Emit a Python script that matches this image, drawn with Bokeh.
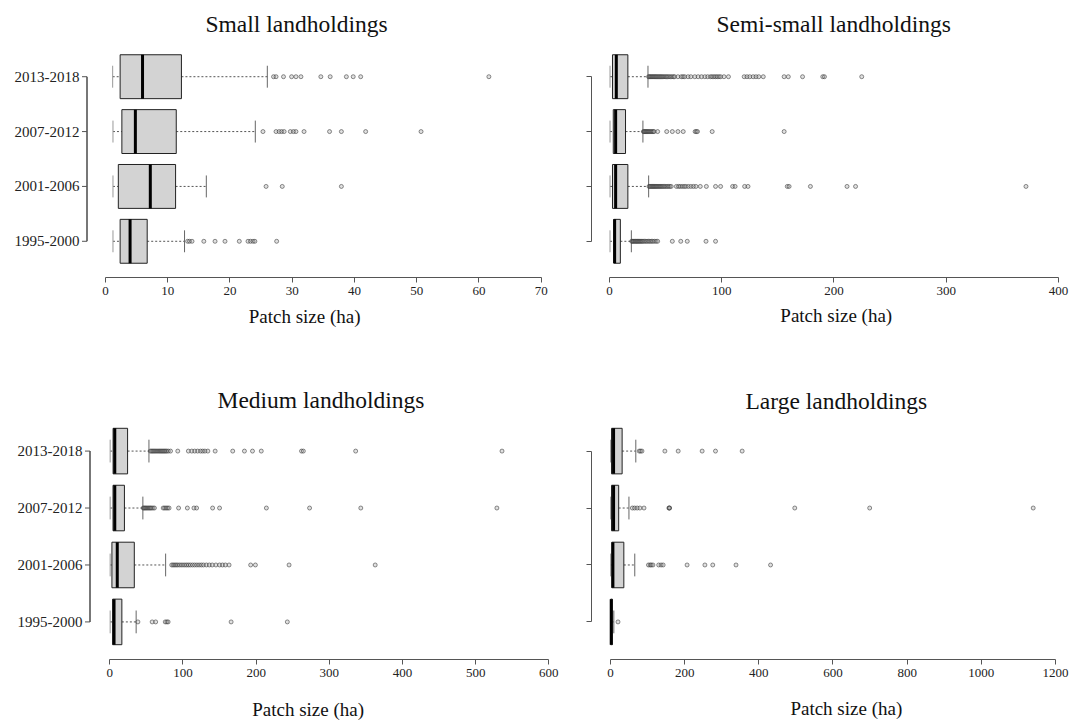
from bokeh.plotting import figure
from bokeh.layouts import column, row
from bokeh.models import Range1d, FixedTicker, Title, LinearAxis
from bokeh.embed import file_html
from bokeh.resources import INLINE

FONT = "Liberation Serif"

periods = ["1995-2000", "2001-2006", "2007-2012", "2013-2018"]

# ---------------- Small landholdings ----------------
small_lw = [1.2, 1.2, 1.2, 1.15]
small_q1 = [2.35, 2.06, 2.63, 2.35]
small_med = [3.95, 7.2, 4.8, 5.95]
small_q3 = [6.7, 11.26, 11.37, 12.2]
small_uw = [12.7, 16.2, 24.07, 26.0]
small_out = [
    [13.2, 13.5, 13.9, 15.8, 17.6, 19.2, 21.5, 22.9, 23.3, 23.7, 24.0, 27.5],
    [25.8, 28.4, 37.9],
    [25.3, 27.4, 27.9, 28.3, 28.7, 29.7, 30.2, 30.6, 31.9, 36.0, 37.9, 41.8, 50.7],
    [27.0, 27.4, 28.6, 29.9, 30.6, 31.4, 34.6, 36.1, 38.7, 39.8, 41.0, 61.6],
]
small_ticks = [0, 10, 20, 30, 40, 50, 60, 70]

# ---------------- Semi-small landholdings ----------------
semi_lw = [0.5, 0.5, 0.5, 0.5]
semi_q1 = [3.9, 2.7, 3.4, 2.7]
semi_med = [4.6, 5.5, 5.5, 6.1]
semi_q3 = [9.7, 16.4, 14.3, 16.4]
semi_uw = [19.5, 34.9, 29.8, 34.3]
semi_out = [
    [19.8, 20.5, 21.2, 22.0, 22.8, 23.5, 24.3, 25.0, 25.8, 26.6, 27.4, 28.3, 29.1,
     30.0, 31.2, 32.4, 33.5, 34.8, 36.0, 37.3, 38.5, 40.0, 41.5, 42.9, 56.0, 63.5,
     69.3, 86.0, 94.5],
    [35.2, 36.0, 36.8, 37.6, 38.4, 39.2, 40.0, 40.8, 41.6, 42.4, 43.3, 44.2, 45.1,
     46.0, 47.0, 48.0, 49.1, 50.2, 51.4, 52.6, 53.8, 55.0, 59.6, 61.5, 63.0, 64.8,
     66.5, 68.0, 70.2, 72.5, 74.8, 77.0, 80.9, 86.3, 94.5, 99.0, 109.7, 111.9,
     120.4, 123.4, 158.4, 160.0, 179.0, 211.6, 219.2, 371.0],
    [30.2, 30.9, 31.6, 32.3, 33.0, 33.8, 34.6, 35.4, 36.3, 37.2, 38.1, 39.0, 39.8,
     42.9, 51.0, 56.0, 61.0, 65.7, 76.3, 77.4, 78.4, 91.5, 155.6],
    [34.8, 35.6, 36.4, 37.2, 38.0, 38.8, 39.6, 40.4, 41.2, 42.0, 42.9, 43.8, 44.7,
     45.6, 46.5, 47.5, 48.5, 49.6, 50.7, 51.8, 53.0, 54.3, 55.6, 57.0, 58.0, 61.0,
     64.0, 65.5, 67.0, 70.0, 72.5, 76.0, 79.0, 82.0, 85.0, 87.5, 90.0, 91.5, 93.0,
     94.5, 96.0, 97.5, 99.0, 102.0, 106.0, 120.0, 122.5, 125.0, 128.0, 130.5,
     133.0, 137.0, 155.6, 159.3, 172.0, 190.0, 191.5, 224.7],
]
semi_ticks = [0, 100, 200, 300, 400]

# ---------------- Medium landholdings ----------------
med_lw = [0.5, 0.5, 0.5, 0.5]
med_q1 = [3.9, 2.9, 4.4, 4.5]
med_med = [5.8, 10.2, 6.8, 6.8]
med_q3 = [16.5, 33.5, 20.0, 24.3]
med_uw = [36.0, 76.3, 45.2, 53.5]
med_out = [
    [38.4, 57.9, 62.7, 75.8, 78.0, 79.7, 165.8, 242.6],
    [84.6, 86.5, 88.5, 90.5, 92.5, 95.0, 97.5, 100.0, 102.5, 105.0, 107.5, 110.0,
     113.0, 116.0, 119.0, 122.0, 125.0, 128.0, 132.0, 136.0, 140.0, 145.0, 150.0,
     154.0, 158.0, 163.0, 192.5, 199.0, 245.0, 362.7],
    [45.7, 47.0, 48.3, 49.6, 51.0, 52.5, 54.0, 55.5, 57.0, 59.0, 61.0, 73.0, 75.0,
     77.0, 79.0, 81.0, 94.0, 106.0, 115.0, 118.6, 140.5, 150.0, 214.0, 273.0,
     343.0, 529.0],
    [55.4, 57.0, 58.5, 60.0, 61.5, 63.0, 64.5, 66.0, 67.5, 69.0, 70.5, 72.0, 73.5,
     75.0, 76.5, 78.0, 80.0, 83.0, 92.9, 107.4, 112.0, 116.0, 120.0, 124.0, 127.0,
     130.0, 134.0, 144.0, 168.0, 184.0, 195.0, 207.0, 262.0, 264.5, 336.0, 536.0],
]
med_ticks = [0, 100, 200, 300, 400, 500, 600]

# ---------------- Large landholdings ----------------
large_lw = [0.3, 0.5, 0.5, 0.5]
large_q1 = [0.5, 3.7, 2.8, 2.8]
large_med = [2.0, 6.5, 8.3, 8.3]
large_q3 = [5.0, 36.0, 22.1, 31.4]
large_uw = [9.0, 65.5, 49.8, 68.3]
large_out = [
    [20.3],
    [102.4, 107.0, 110.0, 114.4, 130.0, 136.5, 142.0, 206.6, 254.6, 275.8, 338.5, 431.7],
    [59.0, 65.0, 72.0, 79.3, 90.4, 157.5, 158.6, 159.6, 497.0, 699.0, 1140.0],
    [77.5, 81.0, 84.9, 146.7, 182.6, 247.2, 283.2, 355.1],
]
large_ticks = [0, 200, 400, 600, 800, 1000, 1200]

XLABEL = "Patch size (ha)"
AX = "#555555"


def panel(title, lw, q1, med, q3, uw, outs, ticks, xr, size, borders,
          title_off, title_standoff, label_x, label_standoff, show_y, bracket_px=0):
    w, h = size
    bl, br, bt, bb = borders
    p = figure(width=w, height=h, x_range=Range1d(*xr), y_range=Range1d(0.34, 4.66),
               toolbar_location=None, output_backend="svg",
               min_border=0, min_border_left=bl, min_border_right=br,
               min_border_top=bt, min_border_bottom=bb)
    p.outline_line_color = None
    p.grid.visible = False
    p.background_fill_color = "white"
    p.border_fill_color = "white"

    ys = list(range(1, len(periods) + 1))
    # whiskers
    p.segment(x0=q3, y0=ys, x1=uw, y1=ys, line_dash="2 2", line_color=AX, line_width=1)
    p.segment(x0=lw, y0=ys, x1=q1, y1=ys, line_dash="2 2", line_color=AX, line_width=1)
    # staples
    lo = [y - 0.2 for y in ys]
    hi = [y + 0.2 for y in ys]
    p.segment(x0=uw, y0=lo, x1=uw, y1=hi, line_color="#666666", line_width=1)
    p.segment(x0=lw, y0=lo, x1=lw, y1=hi, line_color="#999999", line_width=1)
    # boxes
    p.hbar(y=ys, height=0.8, left=q1, right=q3, fill_color="#d3d3d3",
           line_color="#222222", line_width=1)
    # medians
    p.segment(x0=med, y0=[y - 0.4 for y in ys], x1=med, y1=[y + 0.4 for y in ys],
              line_color="black", line_width=3)
    # outliers
    ox, oy = [], []
    for y, vals in zip(ys, outs):
        ox += vals
        oy += [y] * len(vals)
    p.scatter(ox, oy, marker="circle", size=4, line_color="#333333", line_alpha=0.55,
              fill_color="#999999", fill_alpha=0.3, line_width=1)

    # x axis (line, ticks, numbers)
    xa = p.xaxis[0]
    xa.ticker = FixedTicker(ticks=ticks)
    xa.bounds = (ticks[0], ticks[-1])
    xa.minor_tick_line_color = None
    xa.major_tick_in = 0
    xa.major_tick_out = 5
    xa.axis_line_color = AX
    xa.major_tick_line_color = AX
    xa.major_label_text_font = FONT
    xa.major_label_text_font_size = "13px"
    xa.major_label_text_color = "#222222"
    xa.major_label_standoff = 4

    # x axis title as a second, line-less axis carrying one label
    xl = LinearAxis(ticker=FixedTicker(ticks=[label_x]),
                    major_label_overrides={label_x: XLABEL},
                    axis_line_color=None, major_tick_line_color=None,
                    minor_tick_line_color=None, major_tick_in=0, major_tick_out=0,
                    major_label_standoff=label_standoff,
                    major_label_text_font=FONT, major_label_text_font_size="19px",
                    major_label_text_color="#111111")
    p.add_layout(xl, "below")

    ya = p.yaxis[0]
    ya.ticker = FixedTicker(ticks=ys)
    ya.minor_tick_line_color = None
    if show_y:
        # labels from the axis, bracket drawn inside the (slightly wider) frame
        ya.axis_line_color = None
        ya.major_tick_line_color = None
        ya.major_tick_in = 0
        ya.major_tick_out = 0
        ya.major_label_standoff = 1
        ya.major_label_overrides = {y: lab for y, lab in zip(ys, periods)}
        ya.major_label_text_font = FONT
        ya.major_label_text_font_size = "15px"
        ya.major_label_text_color = "#222222"
        fw = w - bl - br
        per_px = (xr[1] - xr[0]) / fw
        bx = xr[0] + bracket_px * per_px          # bracket line
        tx = xr[0] + (bracket_px - 5) * per_px    # tick start (5 px out)
        p.segment(x0=[bx], y0=[ys[0]], x1=[bx], y1=[ys[-1]], line_color=AX,
                  line_width=1.6)
        p.segment(x0=[tx] * len(ys), y0=ys, x1=[bx] * len(ys), y1=ys,
                  line_color=AX, line_width=1)
    else:
        ya.bounds = (1, len(periods))
        ya.major_tick_in = 0
        ya.major_tick_out = 5
        ya.axis_line_color = AX
        ya.axis_line_width = 1
        ya.major_tick_line_color = AX
        ya.major_label_standoff = 2
        ya.major_label_overrides = {y: "" for y in ys}
        ya.major_label_text_font_size = "0px"

    t = Title(text=title, align="left", offset=title_off, standoff=title_standoff,
              text_font=FONT, text_font_size="23.5px", text_font_style="normal",
              text_color="#111111")
    p.add_layout(t, "above")
    return p


p1 = panel("Small landholdings", small_lw, small_q1, small_med, small_q3, small_uw,
           small_out, small_ticks, (-4.017, 71.5), (574, 370), (80, 24, 37, 92),
           125, 7, 32, 8, True, bracket_px=6.5)
p2 = panel("Semi-small landholdings", semi_lw, semi_q1, semi_med, semi_q3, semi_uw,
           semi_out, semi_ticks, (-16.0, 407.1), (500, 370), (17, 8, 40, 93),
           125, 7, 202, 7, False)
p3 = panel("Medium landholdings", med_lw, med_q1, med_med, med_q3, med_uw,
           med_out, med_ticks, (-35.94, 613.2), (574, 352), (83, 16, 43, 62),
           134, 1, 271, 19, True, bracket_px=6.5)
p4 = panel("Large landholdings", large_lw, large_q1, large_med, large_q3, large_uw,
           large_out, large_ticks, (-51.2, 1229.8), (500, 352), (17, 8, 37, 59),
           154, 0, 636, 18, False)

layout = column(row(p1, p2), row(p3, p4))
open("out.html", "w").write(file_html(layout, INLINE))
